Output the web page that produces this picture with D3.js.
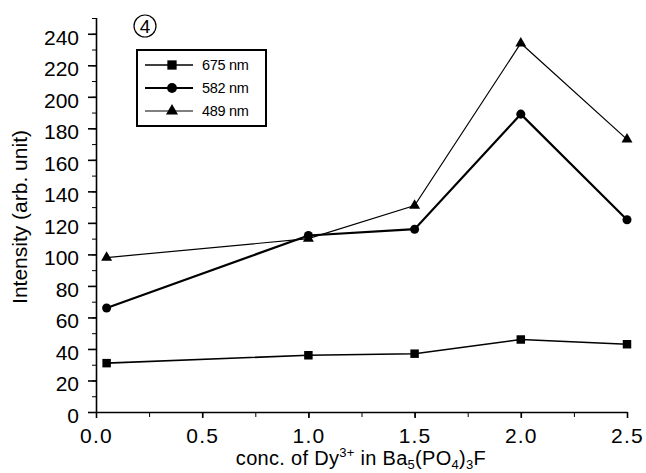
<!DOCTYPE html>
<html>
<head>
<meta charset="utf-8">
<script src="https://cdn.jsdelivr.net/npm/d3@7"></script>
<style>
  body { margin: 0; background: #fff; }
  svg { display: block; font-family: "Liberation Sans", Arial, sans-serif; }
</style>
</head>
<body>
<div id="chart"></div>
<script>
// Dy3+ concentration (x) and emission intensity for three wavelengths
var conc = [0.05, 1.0, 1.5, 2.0, 2.5];
var i675 = [31, 36, 37, 46, 43];
var i582 = [66, 112, 116, 189, 122];
var i489 = [98, 110, 131, 234, 173];
var seriesNames = ['675 nm', '582 nm', '489 nm'];
var yTicks = [0, 20, 40, 60, 80, 100, 120, 140, 160, 180, 200, 220, 240];
var xTicks = [0.0, 0.5, 1.0, 1.5, 2.0, 2.5];

var drawChart = function(target){
  var width = 646, height = 473;
  var plotLeft = 96, plotRight = 627, plotTop = 18, plotBottom = 412;

  var svg = d3.select(target).append('svg')
    .attr('width', width)
    .attr('height', height);

  var x = d3.scaleLinear().domain([0, 2.5]).range([plotLeft, plotRight]);
  var y = d3.scaleLinear().domain([0, 250]).range([plotBottom, plotTop]);

  // axes: minor ticks first, then major with labels
  svg.append('g')
    .attr('transform', 'translate(' + plotLeft + ',0)')
    .call(d3.axisLeft(y).tickValues(d3.range(0, 251, 10)).tickSize(4).tickFormat(''))
    .call(function(g){ g.select('.domain').remove(); });

  var yAxis = svg.append('g')
    .attr('transform', 'translate(' + plotLeft + ',0)')
    .call(d3.axisLeft(y).tickValues(yTicks).tickSize(8).tickPadding(9).tickSizeOuter(0));
  yAxis.select('.domain').attr('d', 'M0.5,' + y(250) + 'V' + y(0)).attr('stroke-width', 1.6);
  yAxis.selectAll('.tick line').attr('stroke-width', 1.6);
  yAxis.selectAll('.tick text')
    .attr('dy', '0.5em')
    .style('font-size', '21px')
    .attr('fill', '#000');

  svg.append('g')
    .attr('transform', 'translate(0,' + plotBottom + ')')
    .call(d3.axisBottom(x).tickValues(d3.range(0, 2.51, 0.25)).tickSize(5).tickFormat(''))
    .call(function(g){ g.select('.domain').remove(); });

  var xAxis = svg.append('g')
    .attr('transform', 'translate(0,' + plotBottom + ')')
    .call(d3.axisBottom(x).tickValues(xTicks).tickSize(6).tickPadding(10).tickSizeOuter(0)
      .tickFormat(d3.format('.1f')));
  xAxis.select('.domain').attr('stroke-width', 1.6);
  xAxis.selectAll('.tick text')
    .style('font-size', '21px')
    .style('letter-spacing', '1.2px')
    .attr('fill', '#000');
  xAxis.selectAll('.tick line').attr('stroke-width', 1.6);

  // axis titles
  svg.append('text')
    .attr('transform', 'translate(27,' + ((plotTop + plotBottom) / 2 + 2) + ') rotate(-90)')
    .attr('text-anchor', 'middle')
    .style('font-size', '21px')
    .text('Intensity (arb. unit)');

  var xt = svg.append('text')
    .attr('x', 361)
    .attr('y', 465)
    .attr('text-anchor', 'middle')
    .style('font-size', '20px')
    .style('letter-spacing', '0.3px');
  xt.append('tspan').text('conc. of Dy');
  xt.append('tspan').attr('dy', -8).style('font-size', '13px').text('3+');
  xt.append('tspan').attr('dy', 8).text(' in Ba');
  xt.append('tspan').attr('dy', 4).style('font-size', '13px').text('5');
  xt.append('tspan').attr('dy', -4).text('(PO');
  xt.append('tspan').attr('dy', 4).style('font-size', '13px').text('4');
  xt.append('tspan').attr('dy', -4).text(')');
  xt.append('tspan').attr('dy', 4).style('font-size', '13px').text('3');
  xt.append('tspan').attr('dy', -4).text('F');

  // series
  var series = [
    {name: seriesNames[0], values: i675, symbol: d3.symbolSquare, size: 72, lw: 1.6},
    {name: seriesNames[1], values: i582, symbol: d3.symbolCircle, size: 64, lw: 2.2},
    {name: seriesNames[2], values: i489, symbol: d3.symbolTriangle, size: 52, lw: 1.2}
  ];

  var line = d3.line()
    .x(function(d){ return x(d[0]); })
    .y(function(d){ return y(d[1]); });

  series.forEach(function(s){
    var pts = conc.map(function(c, i){ return [c, s.values[i]]; });
    svg.append('path')
      .datum(pts)
      .attr('d', line)
      .attr('fill', 'none')
      .attr('stroke', '#000')
      .attr('stroke-width', s.lw);
    svg.selectAll(null)
      .data(pts)
      .enter()
      .append('path')
      .attr('d', d3.symbol().type(s.symbol).size(s.size))
      .attr('transform', function(d){ return 'translate(' + x(d[0]) + ',' + y(d[1]) + ')'; })
      .attr('fill', '#000');
  });

  // legend
  var legend = svg.append('g');
  legend.append('rect')
    .attr('x', 137).attr('y', 50)
    .attr('width', 129).attr('height', 76)
    .attr('fill', '#fff')
    .attr('stroke', '#000')
    .attr('stroke-width', 2);

  series.forEach(function(s, i){
    var ly = 65 + i * 23;
    legend.append('line')
      .attr('x1', 145).attr('x2', 193)
      .attr('y1', ly).attr('y2', ly)
      .attr('stroke', '#000')
      .attr('stroke-width', s.lw);
    legend.append('path')
      .attr('d', d3.symbol().type(s.symbol).size(s.size * 1.2))
      .attr('transform', 'translate(172,' + ly + ')')
      .attr('fill', '#000');
    legend.append('text')
      .attr('x', 202).attr('y', ly + 5)
      .style('font-size', '14.5px')
      .style('letter-spacing', '-0.3px')
      .text(s.name);
  });

  // panel label (circled 4)
  svg.append('circle')
    .attr('cx', 145).attr('cy', 26).attr('r', 11)
    .attr('fill', 'none').attr('stroke', '#000').attr('stroke-width', 1.2);
  svg.append('text')
    .attr('x', 145).attr('y', 33)
    .attr('text-anchor', 'middle')
    .style('font-size', '19px')
    .text('4');
};

drawChart(document.getElementById('chart'));
</script>
</body>
</html>
